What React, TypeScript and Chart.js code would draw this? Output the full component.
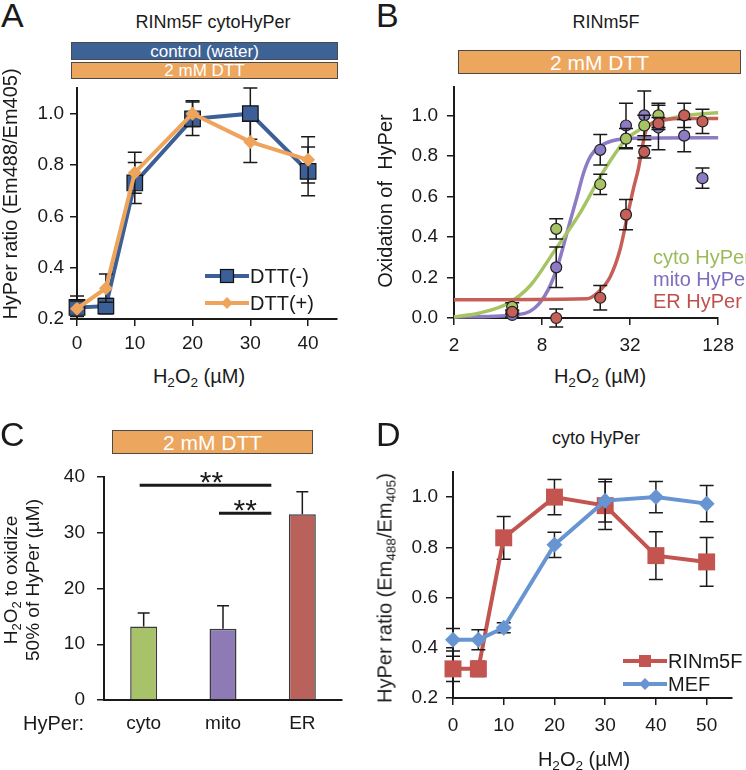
import React, { useEffect, useRef } from 'react';
import { Chart, registerables } from 'chart.js';
Chart.register(...registerables);

const FONT = '"Liberation Sans", Arial, Helvetica, sans-serif';
const INK = '#1a1a1a';
Chart.defaults.font.family = FONT;
Chart.defaults.color = INK;

// ---------- Panel A: RINm5F cytoHyPer ----------
const aX = [0, 5, 10, 20, 30, 40];
const aMinus = [0.245, 0.25, 0.73, 0.98, 1.0, 0.775];
const aMinusErr = [0.045, 0.03, 0.08, 0.065, 0.1, 0.095];
const aPlus = [0.24, 0.32, 0.77, 1.0, 0.89, 0.82];
const aPlusErr = [0.03, 0.055, 0.08, 0.05, 0.08, 0.09];
const aYTicks = [0.2, 0.4, 0.6, 0.8, 1.0];
const aXTicks = [0, 10, 20, 30, 40];

// ---------- Panel B: RINm5F oxidation ----------
const bX = [5, 10, 20, 30, 40, 50, 75, 100];
const bCyto = [0.055, 0.44, 0.66, 0.885, 0.95, 1.0];
const bCytoErr = [0.02, 0.05, 0.05, 0.05, 0.05, 0.06];
const bMito = [0.015, 0.25, 0.83, 0.95, 1.0, 0.94, 0.9, 0.69];
const bMitoErr = [0.01, 0.1, 0.075, 0.11, 0.12, 0.11, 0.08, 0.05];
const bEr = [0.03, 0.0, 0.1, 0.51, 0.82, 0.96, 1.0, 0.97];
const bErErr = [0.01, 0.045, 0.06, 0.075, 0.03, 0.03, 0.06, 0.06];
const bCytoFitX = [2, 3, 4.7, 6.7, 9.7, 14.6, 20.5, 30, 48, 77, 128];
const bCytoFitY = [0.005, 0.025, 0.073, 0.163, 0.33, 0.52, 0.71, 0.88, 0.964, 1.0, 1.013];
const bMitoFitX = [2, 5.2, 7.1, 8.8, 10.2, 12, 13.9, 15.4, 17.2, 20, 24.6, 32, 128];
const bMitoFitY = [0.005, 0.015, 0.048, 0.139, 0.254, 0.436, 0.6, 0.717, 0.8, 0.848, 0.876, 0.887, 0.89];
const bErFitX = [2, 16.2, 19, 23.4, 27.3, 30.3, 33.6, 36.3, 41.4, 50.8, 69, 128];
const bErFitY = [0.09, 0.095, 0.122, 0.204, 0.337, 0.485, 0.634, 0.73, 0.93, 0.972, 0.984, 0.985];
const bYTicks = [0, 0.2, 0.4, 0.6, 0.8, 1.0];
const bXTicks = [2, 8, 32, 128];

// ---------- Panel C: EC50 bars ----------
const cCats = ['cyto', 'mito', 'ER'];
const cVals = [13.2, 12.8, 33.3];
const cErr = [2.4, 4.1, 4.05];
const cYTicks = [0, 10, 20, 30, 40];
const cSigFrom = [0, 1];
const cSigTo = [2, 2];
const cSigY = [38.5, 33.5];
const cSigLabel = ['**', '**'];

// ---------- Panel D: cyto HyPer ----------
const dX = [0, 5, 10, 20, 30, 40, 50];
const dRin = [0.316, 0.316, 0.838, 1.0, 0.966, 0.767, 0.742];
const dRinErr = [0.05, 0.03, 0.085, 0.07, 0.095, 0.095, 0.097];
const dMef = [0.432, 0.432, 0.48, 0.81, 0.986, 1.0, 0.974];
const dMefErr = [0.045, 0.04, 0.02, 0.05, 0.085, 0.062, 0.072];
const dYTicks = [0.2, 0.4, 0.6, 0.8, 1.0];
const dXTicks = [0, 10, 20, 30, 40, 50];

// colours
const A_BLUE = '#3B5F96';
const A_ORANGE = '#EFA45C';
const B_GREEN = '#A6C463';
const B_PURPLE = '#8D7CC3';
const B_RED = '#C65F57';
const C_GREEN = '#A8C26A';
const C_PURPLE = '#8E7BB5';
const C_RED = '#B9625B';
const D_RED = '#C3544F';
const D_BLUE = '#6795D2';

const pts = (xs: number[], ys: number[]) => ys.map((y, i) => ({ x: xs[i], y }));

// geometry of plot areas (page px)
const YW = 60, PADT = 25, XH = 45;
const GEO: any = {
  A: { l: 77, t: 88, r: 337, b: 319, pr: 20 },
  B: { l: 454, t: 87, r: 723, b: 318, pr: 20 },
  C: { l: 104, t: 477, r: 342, b: 700, pr: 20 },
  D: { l: 453, t: 472, r: 736, b: 698, pr: 8 },
};
const frame = (g: any) => {
  const left = g.l - YW;
  const top = g.t - PADT;
  return { left, top, width: g.r + g.pr - left, height: g.b + XH - top };
};

const errorBars = {
  id: 'errorBars',
  beforeDatasetDraw(chart: any, args: any) {
    const ds = chart.data.datasets[args.index];
    if (!ds.errors) return;
    const ys = chart.scales.y;
    const ctx = chart.ctx;
    const cap = ds.capHalf || 7;
    ctx.save();
    ctx.strokeStyle = INK;
    ctx.lineWidth = 1.5;
    args.meta.data.forEach((el: any, i: number) => {
      const e = ds.errors[i];
      if (e == null) return;
      const d = ds.data[i];
      const v = typeof d === 'object' ? d.y : d;
      const x = el.x;
      const yt = ys.getPixelForValue(v + e);
      const yb = ds.upOnly ? ys.getPixelForValue(v) : ys.getPixelForValue(v - e);
      ctx.beginPath();
      ctx.moveTo(x, yt); ctx.lineTo(x, yb);
      ctx.moveTo(x - cap, yt); ctx.lineTo(x + cap, yt);
      if (!ds.upOnly) { ctx.moveTo(x - cap, yb); ctx.lineTo(x + cap, yb); }
      ctx.stroke();
    });
    ctx.restore();
  },
};

const sigLines = {
  id: 'sigLines',
  afterDatasetsDraw(chart: any, _a: any, opts: any) {
    if (!opts || !opts.on) return;
    const ctx = chart.ctx;
    const xs = chart.scales.x, ys = chart.scales.y;
    ctx.save();
    ctx.strokeStyle = INK;
    ctx.fillStyle = INK;
    ctx.lineWidth = 3;
    cSigY.forEach((yv, i) => {
      const x1 = xs.getPixelForValue(cSigFrom[i]) - 4;
      const x2 = xs.getPixelForValue(cSigTo[i]) - 31;
      const y = ys.getPixelForValue(yv);
      ctx.beginPath(); ctx.moveTo(x1, y); ctx.lineTo(x2, y); ctx.stroke();
      ctx.font = `30px ${FONT}`;
      ctx.textAlign = 'center';
      ctx.textBaseline = 'alphabetic';
      ctx.fillText(cSigLabel[i], (x1 + x2) / 2 + (i === 0 ? 6 : 0), y + 7);
    });
    ctx.restore();
  },
};

function axis(min: number, max: number, ticksArr: number[] | null, tickLen: number, pad: number, fmt: any, extra: any = {}) {
  const o: any = {
    min, max,
    border: { display: true, color: INK, width: 2 },
    grid: { display: true, drawOnChartArea: false, drawTicks: tickLen > 0, tickLength: tickLen, color: INK, lineWidth: 1.5 },
    ticks: { color: INK, font: { size: 19, family: FONT }, padding: pad, maxRotation: 0, autoSkip: false },
    ...extra,
  };
  if (fmt) o.ticks.callback = fmt;
  if (ticksArr) o.afterBuildTicks = (s: any) => { s.ticks = ticksArr.map((v) => ({ value: v })); };
  return o;
}

function baseOptions(key: string, xScale: any, yScale: any, plugins: any = {}) {
  const g = GEO[key];
  xScale.afterFit = (s: any) => { s.height = XH; };
  yScale.afterFit = (s: any) => { s.width = YW; };
  return {
    responsive: false,
    maintainAspectRatio: false,
    animation: false,
    devicePixelRatio: 1,
    layout: { padding: { left: 0, top: PADT, right: g.pr, bottom: 0 } },
    plugins: { legend: { display: false }, tooltip: { enabled: false }, ...plugins },
    scales: { x: xScale, y: yScale },
  };
}

const fmt1 = (v: any) => Number(v).toFixed(1);
const fmt0 = (v: any) => String(v);

function configA() {
  return {
    type: 'scatter',
    data: {
      datasets: [
        {
          data: pts(aX, aPlus), errors: aPlusErr, showLine: true, borderColor: A_ORANGE, borderWidth: 4,
          pointStyle: 'rectRot', pointRadius: 7, pointBackgroundColor: A_ORANGE, pointBorderColor: A_ORANGE, pointBorderWidth: 0, clip: false,
        },
        {
          data: pts(aX, aMinus), errors: aMinusErr, showLine: true, borderColor: A_BLUE, borderWidth: 4,
          pointStyle: 'rect', pointRadius: 11, pointBackgroundColor: A_BLUE, pointBorderColor: '#111', pointBorderWidth: 1.2, clip: false,
        },
      ],
    },
    options: baseOptions('A', axis(0, 45, aXTicks, 7, 6, fmt0), axis(0.2, 1.1, aYTicks, 7, 6, fmt1)),
    plugins: [errorBars],
  };
}

function configB() {
  const pt = (xs: number[], ys: number[], err: number[], c: string) => ({
    data: pts(xs, ys), errors: err, showLine: false, pointStyle: 'circle', pointRadius: 5.5,
    pointBackgroundColor: c, pointBorderColor: '#222', pointBorderWidth: 1.2, clip: false,
  });
  const fit = (xs: number[], ys: number[], c: string) => ({
    data: pts(xs, ys), showLine: true, pointRadius: 0, borderColor: c, borderWidth: 3.5,
    cubicInterpolationMode: 'monotone', clip: false,
  });
  return {
    type: 'scatter',
    data: {
      datasets: [
        pt(bX, bEr, bErErr, B_RED),
        pt(bX, bCyto, bCytoErr, B_GREEN),
        pt(bX, bMito, bMitoErr, B_PURPLE),
        fit(bErFitX, bErFitY, B_RED),
        fit(bCytoFitX, bCytoFitY, B_GREEN),
        fit(bMitoFitX, bMitoFitY, B_PURPLE),
      ],
    },
    options: baseOptions('B',
      axis(2, 128, bXTicks, 7, 9, fmt0, { type: 'logarithmic' }),
      axis(0, 1.14, bYTicks, 7, 9, fmt1)),
    plugins: [errorBars],
  };
}

function configC() {
  const x = axis(0, 0, null, 0, 12, null, { type: 'category', offset: true });
  delete x.min; delete x.max;
  x.grid.drawTicks = false;
  return {
    type: 'bar',
    data: {
      labels: cCats,
      datasets: [
        {
          data: cVals, errors: cErr, upOnly: true, capHalf: 6,
          backgroundColor: [C_GREEN, C_PURPLE, C_RED], borderColor: '#3a3a3a', borderWidth: 1.5,
          barPercentage: 0.34, categoryPercentage: 1,
        },
      ],
    },
    options: baseOptions('C', x, axis(0, 40, cYTicks, 7, 12, fmt0), { sigLines: { on: true } }),
    plugins: [errorBars, sigLines],
  };
}

function configD() {
  return {
    type: 'scatter',
    data: {
      datasets: [
        {
          data: pts(dX, dMef), errors: dMefErr, showLine: true, borderColor: D_BLUE, borderWidth: 4,
          pointStyle: 'rectRot', pointRadius: 8, pointBackgroundColor: D_BLUE, pointBorderColor: D_BLUE, pointBorderWidth: 0, clip: false,
        },
        {
          data: pts(dX, dRin), errors: dRinErr, showLine: true, borderColor: D_RED, borderWidth: 4,
          pointStyle: 'rect', pointRadius: 12, pointBackgroundColor: D_RED, pointBorderColor: D_RED, pointBorderWidth: 0, clip: false,
        },
      ],
    },
    options: baseOptions('D', axis(0, 55, dXTicks, 7, 9, fmt0), axis(0.2, 1.1, dYTicks, 7, 8, fmt1)),
    plugins: [errorBars],
  };
}

function ChartBox({ k, make }: { k: string; make: () => any }) {
  const ref = useRef<HTMLCanvasElement>(null);
  const f = frame(GEO[k]);
  useEffect(() => {
    const c = new Chart(ref.current as HTMLCanvasElement, make());
    return () => c.destroy();
  }, []);
  return (
    <canvas ref={ref} width={f.width} height={f.height}
      style={{ position: 'absolute', left: f.left, top: f.top, width: f.width, height: f.height }} />
  );
}

function Txt({ x, y, size = 20, color = INK, rot = false, left = false, children, style = {} }: any) {
  return (
    <div style={{
      position: 'absolute', left: x, top: y,
      transform: `translate(${left ? '0' : '-50%'}, -50%)${rot ? ' rotate(-90deg)' : ''}`,
      fontSize: size, fontFamily: FONT, color, whiteSpace: 'pre', lineHeight: 1.15, ...style,
    }}>{children}</div>
  );
}

const Sub = ({ children }: any) => (
  <span style={{ fontSize: '0.68em', position: 'relative', top: '0.3em', lineHeight: 0 }}>{children}</span>
);

function Banner({ x1, x2, y1, y2, bg, size, children }: any) {
  return (
    <div style={{
      position: 'absolute', left: x1, top: y1, width: x2 - x1, height: y2 - y1, boxSizing: 'border-box',
      background: bg, border: '1px solid #4a4a4a', color: '#fff', fontFamily: FONT, fontSize: size,
      display: 'flex', alignItems: 'center', justifyContent: 'center', lineHeight: 1,
    }}>{children}</div>
  );
}

function LegendRow({ x, y, color, marker, label, size = 20 }: any) {
  return (
    <>
      <svg style={{ position: 'absolute', left: x, top: y - 10 }} width={44} height={20}>
        <line x1={0} y1={10} x2={44} y2={10} stroke={color} strokeWidth={4} />
        {marker === 'sq-border' && <rect x={15.5} y={3.5} width={13} height={13} fill={color} stroke="#111" strokeWidth={1.2} />}
        {marker === 'sq' && <rect x={16} y={4} width={12} height={12} fill={color} />}
        {marker === 'dia' && <polygon points="22,4 28,10 22,16 16,10" fill={color} />}
      </svg>
      <Txt x={x + 45} y={y} left size={size}>{label}</Txt>
    </>
  );
}

function Letter({ x, y, children }: any) {
  return (
    <div style={{ position: 'absolute', left: x, top: y, fontSize: 34, fontFamily: FONT, color: INK, lineHeight: 1 }}>{children}</div>
  );
}

const H2O2 = () => (<span>H<Sub>2</Sub>O<Sub>2</Sub> (µM)</span>);

export default function App() {
  return (
    <div style={{ position: 'absolute', left: 0, top: 0, width: 746, height: 770, overflow: 'hidden', background: '#fff' }}>
      {/* Panel A */}
      <Letter x={1} y={-2}>A</Letter>
      <Txt x={213} y={22} size={18}>RINm5F cytoHyPer</Txt>
      <Banner x1={71} x2={338} y1={42} y2={60} bg="#3D6396" size={17}>control (water)</Banner>
      <Banner x1={71} x2={338} y1={62} y2={79} bg="#EDA65E" size={17}>2 mM DTT</Banner>
      <ChartBox k="A" make={configA} />
      <Txt x={10} y={194} rot>HyPer ratio (Em488/Em405)</Txt>
      <Txt x={199} y={376}><H2O2 /></Txt>
      <LegendRow x={205} y={276} color={A_BLUE} marker="sq-border" label="DTT(-)" />
      <LegendRow x={205} y={303} color={A_ORANGE} marker="dia" label="DTT(+)" />

      {/* Panel B */}
      <Letter x={376} y={-2}>B</Letter>
      <Txt x={606} y={22} size={18}>RINm5F</Txt>
      <Banner x1={458} x2={741} y1={50} y2={74} bg="#EDA65E" size={21}>2 mM DTT</Banner>
      <ChartBox k="B" make={configB} />
      <Txt x={385} y={201} rot>{'Oxidation of  HyPer'}</Txt>
      <Txt x={600} y={376}><H2O2 /></Txt>
      <Txt x={653} y={257} left color="#9BBB59">cyto HyPer</Txt>
      <Txt x={653} y={279} left color="#7F6BBF">mito HyPer</Txt>
      <Txt x={653} y={301} left color="#C0504D">ER HyPer</Txt>

      {/* Panel C */}
      <Letter x={0} y={417}>C</Letter>
      <Banner x1={112} x2={313} y1={430} y2={454} bg="#EDA65E" size={21}>2 mM DTT</Banner>
      <ChartBox k="C" make={configC} />
      <Txt x={11} y={580} rot size={19}>H<Sub>2</Sub>O<Sub>2</Sub> to oxidize</Txt>
      <Txt x={33} y={580} rot size={19}>50% of HyPer (µM)</Txt>
      <Txt x={23} y={723} left>HyPer:</Txt>

      {/* Panel D */}
      <Letter x={376} y={417}>D</Letter>
      <Txt x={596} y={438} size={18}>cyto HyPer</Txt>
      <ChartBox k="D" make={configD} />
      <Txt x={385} y={588} rot>HyPer ratio (Em<Sub>488</Sub>/Em<Sub>405</Sub>)</Txt>
      <Txt x={584} y={759}><H2O2 /></Txt>
      <LegendRow x={623} y={661} color={D_RED} marker="sq" label="RINm5F" />
      <LegendRow x={623} y={684} color={D_BLUE} marker="dia" label="MEF" />
    </div>
  );
}
